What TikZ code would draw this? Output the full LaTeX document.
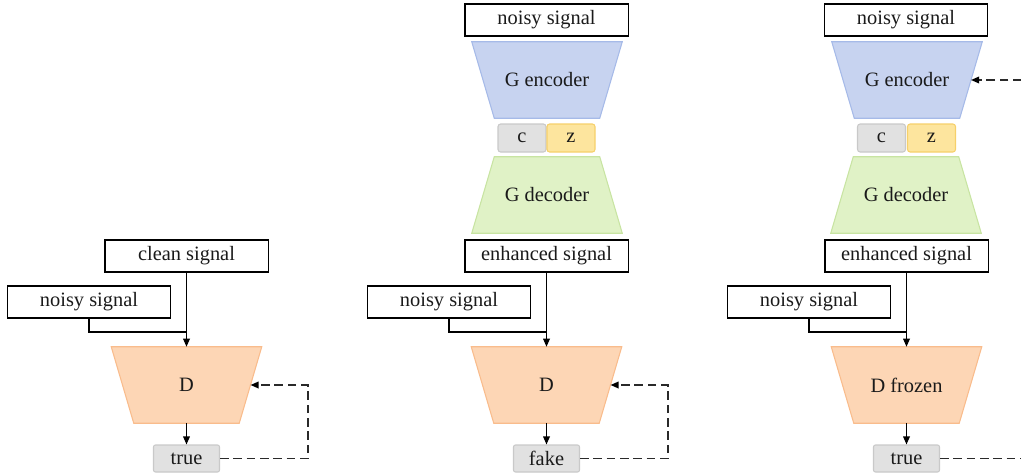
\documentclass[tikz,border=0pt]{standalone}
\usepackage{fontspec}
\setmainfont{Liberation Serif}
\usetikzlibrary{arrows.meta}
\definecolor{dfill}{HTML}{FDD6B5}
\definecolor{ddraw}{HTML}{F9BC8C}
\definecolor{efill}{HTML}{C7D3F0}
\definecolor{edraw}{HTML}{A6BAE8}
\definecolor{gfill}{HTML}{E0F2C6}
\definecolor{gdraw}{HTML}{C8E4A2}
\definecolor{cfill}{HTML}{E1E1E1}
\definecolor{cdraw}{HTML}{C9C9C9}
\definecolor{zfill}{HTML}{FDE59E}
\definecolor{zdraw}{HTML}{F6D06A}
\definecolor{dashcol}{HTML}{2A2A2A}
\definecolor{txt}{HTML}{1A1A1A}
% name, x, y, fill, draw, text : wide side on top
\newcommand\trapdown[6]{%
  \node[trapbox] (#1) at (#2,#3) {};
  \filldraw[fill=#4,draw=#5,line width=0.8pt] (#1.north west) -- (#1.north east)
    -- ([xshift=-16.9pt]#1.south east) -- ([xshift=16.9pt]#1.south west) -- cycle;
  \node[text=txt] at (#1.center) {#6};}
% name, x, y, fill, draw, text : wide side at bottom
\newcommand\trapup[6]{%
  \node[trapbox] (#1) at (#2,#3) {};
  \filldraw[fill=#4,draw=#5,line width=0.8pt] ([xshift=16.9pt]#1.north west) -- ([xshift=-16.9pt]#1.north east)
    -- (#1.south east) -- (#1.south west) -- cycle;
  \node[text=txt] at (#1.center) {#6};}
\begin{document}
\begin{tikzpicture}[x=0.75pt,y=-0.75pt,
  font=\fontsize{15.3}{18}\selectfont,
  sigbox/.style={draw=black,line width=1pt,fill=white,text=txt,minimum width=122.5pt,minimum height=24pt,inner sep=0pt},
  trapbox/.style={minimum width=112.5pt,minimum height=57pt,inner sep=0pt},
  outbox/.style={draw=cdraw,fill=cfill,text=txt,rounded corners=1.5pt,line width=0.8pt,minimum width=49.5pt,minimum height=20.25pt,inner sep=0pt},
  cbox/.style={draw=cdraw,fill=cfill,text=txt,rounded corners=2pt,line width=0.8pt,minimum width=36pt,minimum height=21pt,inner sep=0pt},
  zbox/.style={cbox,draw=zdraw,fill=zfill},
  conn/.style={line width=0.9pt,-{Triangle[length=6pt,width=5pt]}},
  plain/.style={line width=0.9pt},
  fb/.style={draw=dashcol,line width=1pt,dash pattern=on 6.5pt off 3.5pt,-{Triangle[length=6pt,width=5pt,fill=black,color=black]}},
]
\useasboundingbox (0,0) rectangle (1021,475);
\clip (0,0) rectangle (1021,475);

% ---------- panel 1 ----------
\node[sigbox] (cs1) at (186.5,256) {clean signal};
\node[sigbox] (ns1) at (89,302) {noisy signal};
\trapdown{D1}{186.5}{385}{dfill}{ddraw}{D}
\node[outbox] (t1) at (186.5,458.5) {true};
\coordinate (j1) at (186.5,332);
\draw[conn] (cs1.south) -- (D1.north);
\draw[plain] (ns1.south) |- (j1);
\draw[conn] (D1.south) -- (t1.north);
\draw[fb] (t1.east) -- ++(88,0) |- ([xshift=-8.4pt]D1.east);

% ---------- panel 2 ----------
\node[sigbox] (ng2) at (546.5,20) {noisy signal};
\trapdown{enc2}{547}{80}{efill}{edraw}{G encoder}
\node[cbox] (c2) at (522,138) {c};
\node[zbox] (z2) at (571,138) {z};
\trapup{dec2}{547}{195}{gfill}{gdraw}{G decoder}
\node[sigbox] (es2) at (546.5,256) {enhanced signal};
\node[sigbox] (ns2) at (449,302) {noisy signal};
\trapdown{D2}{546.5}{385}{dfill}{ddraw}{D}
\node[outbox] (t2) at (546.5,458.5) {fake};
\coordinate (j2) at (546.5,332);
\draw[conn] (es2.south) -- (D2.north);
\draw[plain] (ns2.south) |- (j2);
\draw[conn] (D2.south) -- (t2.north);
\draw[fb] (t2.east) -- ++(88,0) |- ([xshift=-8.4pt]D2.east);

% ---------- panel 3 ----------
\node[sigbox] (ng3) at (906,20) {noisy signal};
\trapdown{enc3}{907}{80}{efill}{edraw}{G encoder}
\node[cbox] (c3) at (881.5,138) {c};
\node[zbox] (z3) at (931.5,138) {z};
\trapup{dec3}{906}{195}{gfill}{gdraw}{G decoder}
\node[sigbox] (es3) at (906.5,256) {enhanced signal};
\node[sigbox] (ns3) at (809,302) {noisy signal};
\trapdown{D3}{906.5}{385}{dfill}{ddraw}{D frozen}
\node[outbox] (t3) at (906.5,458.5) {true};
\coordinate (j3) at (906.5,332);
\coordinate (r3) at (1045,458.5);
\draw[conn] (es3.south) -- (D3.north);
\draw[plain] (ns3.south) |- (j3);
\draw[conn] (D3.south) -- (t3.north);
\draw[fb] (t3.east) -- (r3) |- ([xshift=-8.4pt]enc3.east);
\end{tikzpicture}
\end{document}
